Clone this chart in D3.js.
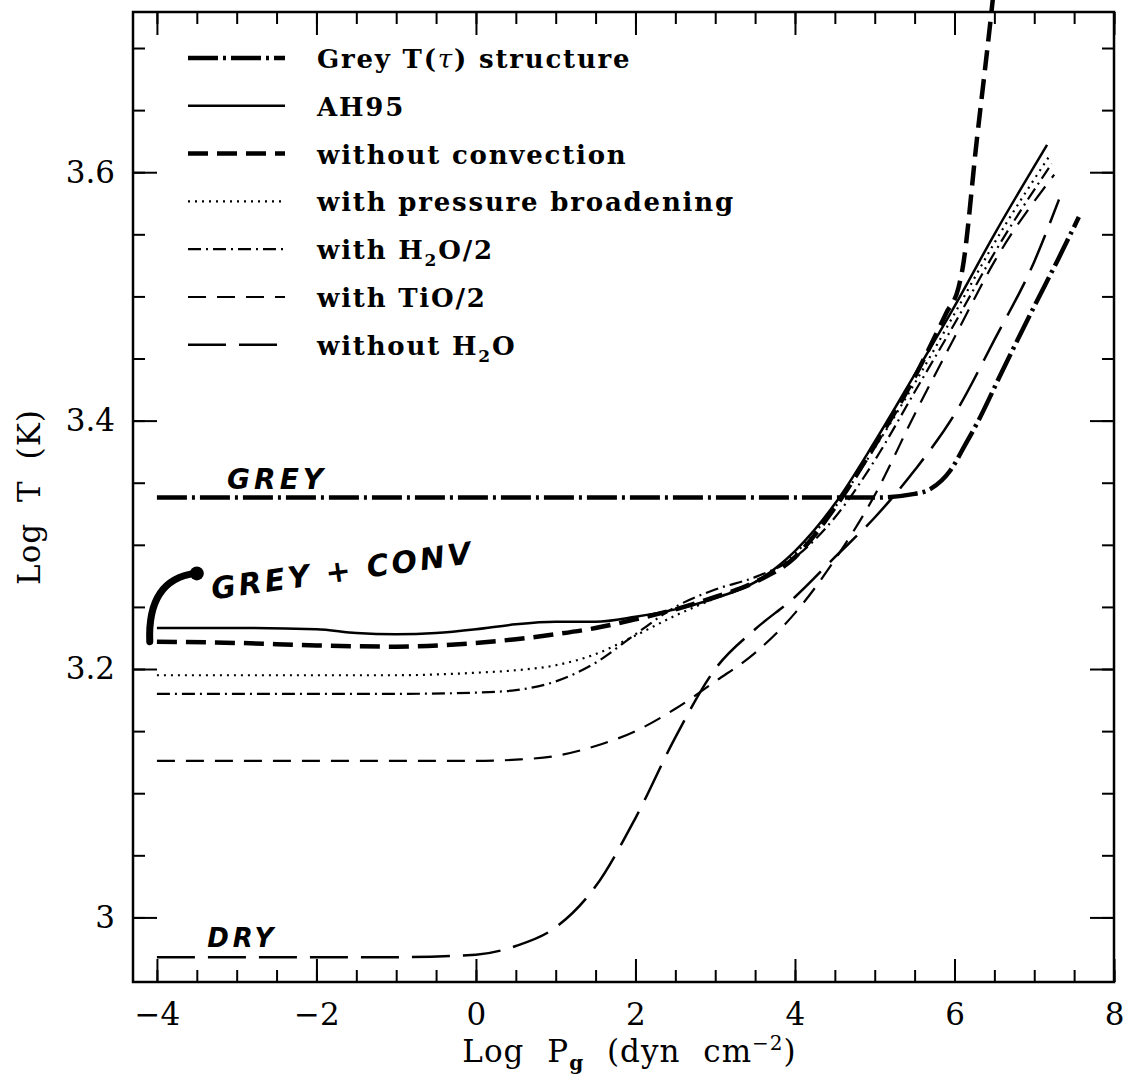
<!DOCTYPE html>
<html lang="en">
<head>
<meta charset="UTF-8">
<title>Log T vs Log Pg</title>
<script src="https://d3js.org/d3.v7.min.js"></script>
<style>
  body { margin: 0; background: #fff; }
  svg { display: block; }
</style>
</head>
<body>
<svg id="chart" width="1125" height="1092"></svg>
<script>
// curves: [log Pg, log T]
const greyCurve = [[-4,3.338],[-2,3.338],[0,3.338],[2,3.338],[4,3.338],[5,3.338],[5.5,3.341],[5.7,3.345],[5.95,3.36],[6.13,3.38],[6.3,3.40],[6.6,3.44],[7.0,3.492],[7.3,3.53],[7.56,3.564]];
const ah95Curve = [[-4,3.233],[-3,3.233],[-2,3.232],[-1.5,3.229],[-1,3.228],[-0.5,3.229],[0,3.232],[0.5,3.236],[1,3.238],[1.5,3.238],[2,3.242],[2.5,3.248],[3,3.257],[3.5,3.27],[4,3.295],[4.5,3.333],[5,3.383],[5.5,3.437],[6,3.492],[6.5,3.55],[7.16,3.622]];
const noConvCurve = [[-4,3.222],[-3,3.221],[-2,3.219],[-1,3.218],[0,3.221],[0.5,3.224],[1,3.228],[1.5,3.233],[2,3.24],[2.5,3.248],[3,3.258],[3.5,3.27],[4,3.29],[4.5,3.33],[5,3.38],[5.5,3.435],[5.9,3.487],[6.05,3.507],[6.1,3.522],[6.28,3.626],[6.46,3.727],[6.49,3.745]];
const pressCurve = [[-4,3.195],[-2,3.195],[-1,3.195],[0,3.197],[0.5,3.199],[1,3.203],[1.5,3.212],[2,3.227],[2.5,3.243],[3,3.257],[3.5,3.27],[4,3.293],[4.5,3.33],[5,3.378],[5.5,3.43],[6,3.486],[6.5,3.543],[7.2,3.614]];
const h2oHalfCurve = [[-4,3.18],[-2,3.18],[-1,3.18],[0,3.181],[0.5,3.183],[1,3.19],[1.5,3.205],[2,3.228],[2.5,3.25],[3,3.264],[3.5,3.274],[4,3.29],[4.5,3.322],[5,3.368],[5.5,3.423],[6,3.478],[6.5,3.535],[7.22,3.607]];
const tioHalfCurve = [[-4,3.126],[-2,3.126],[0,3.126],[0.5,3.127],[1,3.13],[1.5,3.138],[2,3.15],[2.5,3.168],[3,3.19],[3.5,3.213],[4,3.245],[4.5,3.288],[5,3.34],[5.5,3.405],[6,3.467],[6.5,3.528],[7.25,3.598]];
const noH2oCurve = [[-4,2.968],[-2,2.968],[-1,2.968],[0,2.97],[0.5,2.977],[1,2.992],[1.5,3.025],[2,3.08],[2.5,3.145],[3,3.2],[3.5,3.232],[4,3.258],[4.5,3.29],[5,3.322],[5.5,3.36],[6,3.405],[6.5,3.465],[7,3.528],[7.31,3.578]];

const xMajor = [-4, -2, 0, 2, 4, 6, 8];
const xMinor = d3.range(-8, 17).map(i => i / 2);
const yMajor = [3.0, 3.2, 3.4, 3.6];
const yMinor = d3.range(60, 75).map(i => i / 20);

const svg = d3.select("#chart");
const mLeft = 133, mRight = 1114, mTop = 12, mBottom = 982;

const x = d3.scaleLinear().domain([-4.3, 8]).range([mLeft, mRight]);
const y = d3.scaleLinear().domain([2.948, 3.729]).range([mBottom, mTop]);

const serif = "'DejaVu Serif', 'Liberation Serif', serif";

// series styles
const series = [
  { data: greyCurve,    w: 4.5, dash: "30,5,3,5" },
  { data: ah95Curve,    w: 2.5, dash: null },
  { data: noConvCurve,  w: 4.5, dash: "20,9" },
  { data: pressCurve,   w: 2.2, dash: "2,5" },
  { data: h2oHalfCurve, w: 2.2, dash: "13,5,2,5" },
  { data: tioHalfCurve, w: 2.2, dash: "18,11" },
  { data: noH2oCurve,   w: 2.5, dash: "38,13" }
];
const legendLabels = [
  [["Grey T("], ["τ", "it"], [") structure"]],
  [["AH95"]],
  [["without convection"]],
  [["with pressure broadening"]],
  [["with H"], ["2", "sub"], ["O/2"]],
  [["with TiO/2"]],
  [["without H"], ["2", "sub"], ["O"]]
];

const line = d3.line()
  .x(d => x(d[0]))
  .y(d => y(d[1]))
  .curve(d3.curveMonotoneX);

svg.append("g").selectAll("path")
  .data(series)
  .enter().append("path")
  .attr("d", d => line(d.data))
  .attr("fill", "none")
  .attr("stroke", "#000")
  .attr("stroke-width", d => d.w)
  .attr("stroke-dasharray", d => d.dash);

// axes
function styleAxis(g) {
  g.select(".domain").remove();
  g.selectAll(".tick line").attr("stroke", "#000").attr("stroke-width", 2);
  g.selectAll(".tick text").attr("font-family", serif).attr("font-size", 31).attr("fill", "#000");
}
const fmtY = d => d === 3 ? "3" : d.toFixed(1);
const fmtX = d => d < 0 ? "\u2212" + Math.abs(d) : String(d);

svg.append("g").attr("transform", `translate(0,${mBottom})`)
  .call(d3.axisBottom(x).tickValues(xMinor).tickSize(-12).tickFormat("")).call(styleAxis);
svg.append("g").attr("transform", `translate(0,${mBottom})`)
  .call(d3.axisBottom(x).tickValues(xMajor).tickSize(-23).tickPadding(21).tickFormat(fmtX)).call(styleAxis);
svg.append("g").attr("transform", `translate(0,${mTop})`)
  .call(d3.axisTop(x).tickValues(xMinor).tickSize(-12).tickFormat("")).call(styleAxis);
svg.append("g").attr("transform", `translate(0,${mTop})`)
  .call(d3.axisTop(x).tickValues(xMajor).tickSize(-23).tickFormat("")).call(styleAxis);
svg.append("g").attr("transform", `translate(${mLeft},0)`)
  .call(d3.axisLeft(y).tickValues(yMinor).tickSize(-12).tickFormat("")).call(styleAxis);
svg.append("g").attr("transform", `translate(${mLeft},0)`)
  .call(d3.axisLeft(y).tickValues(yMajor).tickSize(-24).tickPadding(18).tickFormat(fmtY)).call(styleAxis);
svg.append("g").attr("transform", `translate(${mRight},0)`)
  .call(d3.axisRight(y).tickValues(yMinor).tickSize(-12).tickFormat("")).call(styleAxis);
svg.append("g").attr("transform", `translate(${mRight},0)`)
  .call(d3.axisRight(y).tickValues(yMajor).tickSize(-24).tickFormat("")).call(styleAxis);

svg.append("rect")
  .attr("x", mLeft).attr("y", mTop)
  .attr("width", mRight - mLeft).attr("height", mBottom - mTop)
  .attr("fill", "none").attr("stroke", "#000").attr("stroke-width", 2.5);

// axis titles
const xt = svg.append("text")
  .attr("x", (mLeft + mRight) / 2 + 6).attr("y", 1062)
  .attr("text-anchor", "middle")
  .attr("font-family", serif).attr("font-size", 31)
  .attr("letter-spacing", 1).attr("word-spacing", 12);
xt.append("tspan").text("Log P");
xt.append("tspan").attr("dy", 8).attr("font-size", 20).attr("font-weight", "bold").text("g");
xt.append("tspan").attr("dy", -8).text(" (dyn cm");
xt.append("tspan").attr("dy", -12).attr("font-size", 20).text("\u22122");
xt.append("tspan").attr("dy", 12).text(")");

svg.append("text")
  .attr("transform", `translate(40,${(mTop + mBottom) / 2}) rotate(-90)`)
  .attr("text-anchor", "middle")
  .attr("font-family", serif).attr("font-size", 31)
  .attr("letter-spacing", 1).attr("word-spacing", 10)
  .text("Log T (K)");

// legend
const legend = svg.append("g");
const rowY = i => 58 + i * 47.8;
legend.selectAll("line")
  .data(series)
  .enter().append("line")
  .attr("x1", 188).attr("x2", 285)
  .attr("y1", (d, i) => rowY(i)).attr("y2", (d, i) => rowY(i))
  .attr("stroke", "#000")
  .attr("stroke-width", d => d.w)
  .attr("stroke-dasharray", d => d.dash);

legendLabels.forEach((parts, i) => {
  const t = legend.append("text")
    .attr("x", 317).attr("y", rowY(i) + 10)
    .attr("font-family", serif).attr("font-size", 26).attr("font-weight", "bold")
    .attr("letter-spacing", 1.8);
  let wasSub = false;
  parts.forEach(p => {
    const s = t.append("tspan").text(p[0]);
    if (p[1] === "it") s.attr("font-style", "italic").attr("font-weight", "normal");
    if (p[1] === "sub") { s.attr("dy", 7).attr("font-size", 17); wasSub = true; }
    else if (wasSub) { s.attr("dy", -7); wasSub = false; }
  });
});

// handwritten notes on the figure
const hand = "'DejaVu Sans', sans-serif";
svg.append("text")
  .attr("x", x(-3.12)).attr("y", y(3.345))
  .attr("font-family", hand).attr("font-size", 28).attr("font-weight", "bold")
  .attr("font-style", "italic").attr("letter-spacing", 4)
  .text("GREY");
svg.append("text")
  .attr("transform", `translate(${x(-3.3)},${y(3.256)}) rotate(-8)`)
  .attr("font-family", hand).attr("font-size", 30).attr("font-weight", "bold")
  .attr("font-style", "italic").attr("letter-spacing", 3)
  .text("GREY + CONV");
svg.append("text")
  .attr("x", x(-3.37)).attr("y", y(2.976))
  .attr("font-family", hand).attr("font-size", 26).attr("font-weight", "bold")
  .attr("font-style", "italic").attr("letter-spacing", 4)
  .text("DRY");
const arrow = d3.path();
arrow.moveTo(x(-4.09), y(3.222));
arrow.quadraticCurveTo(x(-4.12), y(3.272), x(-3.52), y(3.277));
svg.append("path")
  .attr("d", arrow.toString())
  .attr("fill", "none").attr("stroke", "#000").attr("stroke-width", 7)
  .attr("stroke-linecap", "round");
svg.append("circle")
  .attr("cx", x(-3.5)).attr("cy", y(3.277)).attr("r", 7).attr("fill", "#000");
</script>
</body>
</html>
